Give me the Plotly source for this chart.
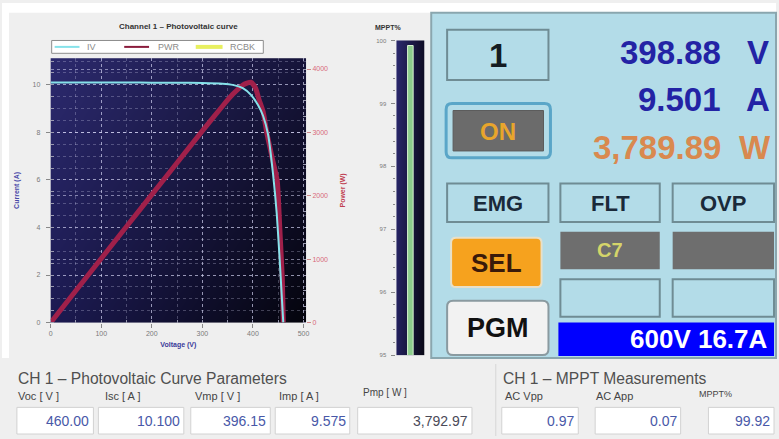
import base64
import struct
import zlib
import plotly.graph_objects as go

W, H = 779, 439
FONT = "Liberation Sans, Arial, sans-serif"

# ---------------- data ----------------
iv_voltage = [0, 50, 100, 150, 200, 250, 300, 340, 360, 380, 396, 410, 420, 430, 440, 447, 453, 460]
iv_current = [10.10, 10.10, 10.10, 10.10, 10.09, 10.09, 10.08, 10.05, 10.00, 9.86, 9.58,
              9.15, 8.70, 7.90, 6.20, 4.60, 2.60, 0.00]

pwr_voltage = [0, 50, 100, 150, 200, 250, 300, 340, 360, 380, 396, 405, 412, 420, 428, 438, 448, 453, 458, 460]
pwr_power = [0, 505, 1010, 1515, 2018, 2522, 3024, 3417, 3600, 3747, 3793, 3700, 3520, 3330,
             2970, 2600, 2240, 1500, 700, 0]

mppt_value = [99.92]
mppt_category = [0]

legend_names = ["IV", "PWR", "RCBK"]
legend_colors = ["#86e2ea", "#8a1c3c", "#e8f060"]

readings = {"volt": "398.88", "amp": "9.501", "watt": "3,789.89"}
pv_labels = ["Voc [ V ]", "Isc [ A ]", "Vmp [ V ]", "Imp [ A ]", "Pmp [ W ]"]
pv_values = ["460.00", "10.100", "396.15", "9.575", "3,792.97"]
mppt_labels = ["AC Vpp", "AC App", "MPPT%"]
mppt_values = ["0.97", "0.07", "99.92"]


# ---------------- helpers ----------------
def fx(x):
    return x / W


def fy(y):
    return 1 - y / H


def gradient_png(w, h, tl, tr, bl, br):
    rows = []
    for j in range(h):
        t = j / (h - 1)
        row = bytearray([0])
        for i in range(w):
            s = i / (w - 1)
            for c in range(3):
                top = tl[c] * (1 - s) + tr[c] * s
                bot = bl[c] * (1 - s) + br[c] * s
                row.append(int(round(top * (1 - t) + bot * t)))
        rows.append(bytes(row))
    raw = b"".join(rows)

    def chunk(tag, data):
        return (struct.pack(">I", len(data)) + tag + data
                + struct.pack(">I", zlib.crc32(tag + data) & 0xFFFFFFFF))

    png = (b"\x89PNG\r\n\x1a\n"
           + chunk(b"IHDR", struct.pack(">IIBBBBB", w, h, 8, 2, 0, 0, 0))
           + chunk(b"IDAT", zlib.compress(raw))
           + chunk(b"IEND", b""))
    return "data:image/png;base64," + base64.b64encode(png).decode()


shapes = []
annotations = []
images = []


def rect(x0, y0, x1, y1, fill, line=None, lw=1, layer="above"):
    shapes.append(dict(type="rect", xref="paper", yref="paper",
                       x0=fx(x0), x1=fx(x1), y0=fy(y1), y1=fy(y0),
                       fillcolor=fill, layer=layer,
                       line=dict(color=line if line else fill, width=lw if line else 0)))


def hline(x0, x1, y, color, width):
    shapes.append(dict(type="line", xref="paper", yref="paper",
                       x0=fx(x0), x1=fx(x1), y0=fy(y), y1=fy(y),
                       line=dict(color=color, width=width)))


def rrect(x0, y0, x1, y1, r, fill, line, lw):
    X = fx
    Y = fy
    p = (f"M {X(x0 + r)},{Y(y0)} L {X(x1 - r)},{Y(y0)} Q {X(x1)},{Y(y0)} {X(x1)},{Y(y0 + r)} "
         f"L {X(x1)},{Y(y1 - r)} Q {X(x1)},{Y(y1)} {X(x1 - r)},{Y(y1)} "
         f"L {X(x0 + r)},{Y(y1)} Q {X(x0)},{Y(y1)} {X(x0)},{Y(y1 - r)} "
         f"L {X(x0)},{Y(y0 + r)} Q {X(x0)},{Y(y0)} {X(x0 + r)},{Y(y0)} Z")
    shapes.append(dict(type="path", xref="paper", yref="paper", path=p,
                       fillcolor=fill, line=dict(color=line, width=lw)))


def text(x, y, s, size, color, anchor="center", bold=False):
    annotations.append(dict(xref="paper", yref="paper", x=fx(x), y=fy(y), text=s,
                            showarrow=False, xanchor=anchor, yanchor="middle",
                            borderpad=0,
                            font=dict(family=FONT, size=size, color=color,
                                      weight="bold" if bold else "normal")))


# ---------------- backgrounds ----------------
rect(0, 0, W, 10, "#ffffff", layer="below")
rect(0, 0, 7, 360, "#ffffff", layer="below")

PX0, PX1, PY0, PY1 = 49, 306, 56, 324
images.append(dict(source=gradient_png(PX1 - PX0, PY1 - PY0,
                                       (44, 42, 110), (22, 20, 58), (28, 26, 82), (4, 4, 12)),
                   xref="paper", yref="paper", x=fx(PX0), y=fy(PY0),
                   sizex=(PX1 - PX0) / W, sizey=(PY1 - PY0) / H,
                   sizing="stretch", xanchor="left", yanchor="top", layer="below"))

MX0, MX1, MY0, MY1 = 397, 425, 38, 357
images.append(dict(source=gradient_png(MX1 - MX0, MY1 - MY0,
                                       (42, 40, 108), (16, 14, 40), (34, 32, 92), (10, 9, 24)),
                   xref="paper", yref="paper", x=fx(MX0), y=fy(MY0),
                   sizex=(MX1 - MX0) / W, sizey=(MY1 - MY0) / H,
                   sizing="stretch", xanchor="left", yanchor="top", layer="below"))

# ---------------- traces ----------------
fig = go.Figure()
fig.add_trace(go.Scatter(x=pwr_voltage, y=pwr_power, mode="lines", name="PWR",
                         line=dict(color="#a0204a", width=5, shape="spline", smoothing=0.5),
                         xaxis="x", yaxis="y", showlegend=False, hoverinfo="skip"))
fig.add_trace(go.Scatter(x=iv_voltage, y=iv_current, mode="lines", name="IV",
                         line=dict(color="#86e2ea", width=2, shape="spline", smoothing=0.6),
                         xaxis="x", yaxis="y2", showlegend=False, hoverinfo="skip"))
fig.add_trace(go.Bar(x=mppt_category, y=mppt_value, xaxis="x3", yaxis="y3", width=0.2,
                     marker=dict(color="#8ccc8c", line=dict(color="#d8f2d0", width=1)),
                     showlegend=False, hoverinfo="skip"))

# ---------------- legend box (drawn) ----------------
rect(50, 38, 263, 51, "#ffffff", "#8c8c8c", 1)
legend_line_x = [(53, 78), (123, 148), (195, 222)]
legend_text_x = [85, 156, 228]
legend_widths = [2, 2, 4]
for i, name in enumerate(legend_names):
    hline(legend_line_x[i][0], legend_line_x[i][1], 44.5, legend_colors[i], legend_widths[i])
    text(legend_text_x[i], 44.5, name, 9, "#8a8a8a", anchor="left")

grid_major = "rgba(215,215,245,0.55)"
grid_minor = "rgba(215,215,245,0.28)"
tickfont = dict(family=FONT, size=7, color="#7a7a7a")

# ---------------- panel (right) ----------------
PANEL = "#b3dce8"
BOX_LINE = "#6f8c94"
rect(432, 10, 779, 360, PANEL, "#8aa6ae", 2)
rect(448, 27, 550, 78, PANEL, BOX_LINE, 2)
text(499, 53, "1", 33, "#141c22", bold=True)

rrect(447, 102, 552, 157, 6, PANEL, "#5aa6c8", 3)
rect(454, 109, 545, 150, "#6b6b6b", "#5c5c5c", 1)
text(499, 130, "ON", 24, "#e8a52c", bold=True)

text(725, 50, readings["volt"], 33, "#2323a5", anchor="right", bold=True)
text(761, 50, "V", 33, "#2323a5", bold=True)
text(725, 98, readings["amp"], 33, "#2323a5", anchor="right", bold=True)
text(761, 98, "A", 33, "#2323a5", bold=True)
text(725, 146, readings["watt"], 33, "#d9894f", anchor="right", bold=True)
text(758, 146, "W", 33, "#d9894f", bold=True)

for (x0, x1, lab) in [(448, 550, "EMG"), (562, 662, "FLT"), (675, 777, "OVP")]:
    rect(x0, 183, x1, 222, PANEL, BOX_LINE, 2)
    text((x0 + x1) / 2, 203, lab, 22, "#1a2a3a", bold=True)

rrect(452, 238, 543, 288, 5, "#f6a21e", "#e8e0c8", 2)
text(498, 264, "SEL", 26, "#3a1a0a", bold=True)

rect(562, 232, 662, 270, "#6e6e6e")
text(612, 250, "C7", 20, "#d4d46a", bold=True)
rect(675, 232, 777, 270, "#6e6e6e")
rect(562, 280, 662, 318, PANEL, BOX_LINE, 2)
rect(675, 280, 777, 318, PANEL, BOX_LINE, 2)

rrect(448, 302, 550, 357, 6, "#f2f2f2", "#8a9aa0", 2)
text(499, 330, "PGM", 27, "#111111", bold=True)

rect(560, 324, 777, 358, "#0000ff")
text(772, 341, "600V 16.7A", 26, "#ffffff", anchor="right", bold=True)

# ---------------- bottom section ----------------
text(15, 381, "CH 1 – Photovoltaic Curve Parameters", 15.6, "#505050", anchor="left")
text(503, 381, "CH 1 – MPPT Measurements", 15.6, "#505050", anchor="left")
shapes.append(dict(type="line", xref="paper", yref="paper", x0=fx(497), x1=fx(497),
                   y0=fy(439), y1=fy(366), line=dict(color="#d6d6d6", width=1)))

pv_boxes = [(15, 92), (97, 183), (190, 270), (275, 350), (358, 473)]
pv_label_x = [15, 103, 193, 278, 362]
for i, (x0, x1) in enumerate(pv_boxes):
    rect(x0, 410, x1, 437, "#ffffff", "#d2d2d2", 1)
    text(pv_label_x[i], 398 if i < 4 else 395, pv_labels[i], 11 if i < 4 else 10, "#454545", anchor="left")
    text(x1 - 3, 424, pv_values[i], 14, "#4858a8" if i < 4 else "#4a4a58", anchor="right")

mp_boxes = [(503, 580), (597, 683), (711, 777)]
mp_label_x = [505, 597, 700]
for i, (x0, x1) in enumerate(mp_boxes):
    rect(x0, 410, x1, 437, "#ffffff", "#d2d2d2", 1)
    text(mp_label_x[i], 398 if i < 2 else 396, mppt_labels[i], 11 if i < 2 else 9, "#454545", anchor="left")
    text(x1 - 3, 424, mppt_values[i], 14, "#4858a8", anchor="right")

# ---------------- chart titles ----------------
text(178, 24, "Channel 1 – Photovoltaic curve", 8, "#333333", bold=True)
text(388, 25, "MPPT%", 7, "#333333", bold=True)

fig.update_layout(
    width=W, height=H, margin=dict(l=0, r=0, t=0, b=0),
    paper_bgcolor="#efefef", plot_bgcolor="rgba(0,0,0,0)",
    font=dict(family=FONT),
    showlegend=False,
    xaxis=dict(domain=[fx(PX0), fx(PX1)], range=[0, 505], anchor="y",
               tick0=0, dtick=100, ticks="outside", ticklen=4, tickcolor="#888",
               tickfont=tickfont, showgrid=True, gridcolor=grid_major, griddash="dot",
               zeroline=False, showline=False,
               minor=dict(dtick=50, showgrid=True, gridcolor=grid_minor, griddash="dot",
                          ticks="inside", ticklen=3, tickcolor="#9a9ab0"),
               title=dict(text="Voltage (V)", standoff=6,
                          font=dict(family=FONT, size=7, color="#3a3a9a", weight="bold"))),
    yaxis=dict(domain=[fy(PY1), fy(PY0)], range=[0, 4170], side="right", anchor="x",
               tick0=0, dtick=1000, ticks="outside", ticklen=4, tickcolor="#c88",
               tickfont=dict(family=FONT, size=7, color="#d86a7a"),
               showgrid=True, gridcolor=grid_major, griddash="dot", zeroline=False,
               minor=dict(dtick=250, showgrid=False, ticks="inside", ticklen=3, tickcolor="#9a9ab0"),
               title=dict(text="Power (W)", standoff=12,
                          font=dict(family=FONT, size=7, color="#c04050", weight="bold"))),
    yaxis2=dict(overlaying="y", side="left", anchor="x", range=[0, 11.12],
                tick0=0, dtick=2, ticks="outside", ticklen=4, tickcolor="#888",
                tickfont=tickfont, ticklabelstandoff=4,
                showgrid=True, gridcolor=grid_major, griddash="dot", zeroline=False,
                minor=dict(dtick=0.5, showgrid=True, gridcolor=grid_minor, griddash="dot",
                           ticks="inside", ticklen=3, tickcolor="#9a9ab0"),
                title=dict(text="Current (A)", standoff=12,
                           font=dict(family=FONT, size=7, color="#4848a8", weight="bold"))),
    xaxis3=dict(domain=[fx(MX0), fx(MX1)], range=[-0.5, 0.5], anchor="y3",
                showticklabels=False, showgrid=False, zeroline=False, ticks=""),
    yaxis3=dict(domain=[fy(MY1), fy(MY0)], range=[95, 100], anchor="x3",
                tick0=95, dtick=1, ticks="outside", ticklen=4, tickcolor="#888",
                tickfont=dict(family=FONT, size=6, color="#7a7a7a"), ticklabelstandoff=4,
                showgrid=False, zeroline=False,
                minor=dict(dtick=0.2, ticks="outside", ticklen=2, tickcolor="#888")),
    shapes=shapes, annotations=annotations, images=images,
)

fig.write_html("out.html")
